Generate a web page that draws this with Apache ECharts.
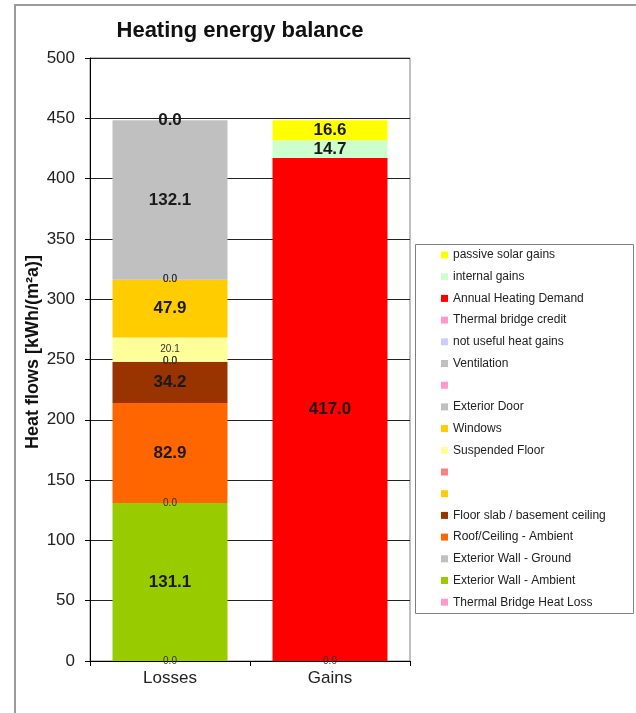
<!DOCTYPE html>
<html>
<head>
<meta charset="utf-8">
<script src="https://cdn.jsdelivr.net/npm/echarts@6/dist/echarts.min.js"></script>
<style>
  html, body { margin: 0; padding: 0; background: #fff; }
  #chart { width: 636px; height: 713px; }
</style>
</head>
<body>
<div id="chart"></div>
<script>
// Heating energy balance: losses vs. gains, kWh/(m²a)
const categories = ['Losses', 'Gains'];

// Series listed bottom-to-top of the stacks
const seriesNames = [
  'Thermal Bridge Heat Loss',
  'Exterior Wall - Ambient',
  'Exterior Wall - Ground',
  'Roof/Ceiling - Ambient',
  'Floor slab / basement ceiling',
  ' ',
  '  ',
  'Suspended Floor',
  'Windows',
  'Exterior Door',
  '   ',
  'Ventilation',
  'not useful heat gains',
  'Thermal bridge credit',
  'Annual Heating Demand',
  'internal gains',
  'passive solar gains'
];

// [Losses, Gains] per series
const lossValues = [0.0, 131.1, 0.0, 82.9, 34.2, 0.0, 0.0, 20.1, 47.9, 0.0, 0.0, 132.1, 0.0, null, null, null, null];
const gainValues = [null, null, null, null, null, null, null, null, null, null, null, null, null, 0.0, 417.0, 14.7, 16.6];

const seriesColors = [
  '#FF99CC', '#99CC00', '#C0C0C0', '#FF6600', '#993300', '#FFCC00', '#FF8080',
  '#FFFF99', '#FFCC00', '#C0C0C0', '#FF99CC', '#C0C0C0', '#CCCCFF',
  '#FF99CC', '#FF0000', '#CCFFCC', '#FFFF00'
];

// Which series carry the large bold value label
const boldLabel = [false, true, false, true, true, false, false, false, true, false, false, true, true, false, true, true, true];

const yTicks = { min: 0, max: 500, interval: 50 };

const FONT = '"Liberation Sans", Arial, sans-serif';

const series = seriesNames.map((name, i) => ({
  name: name,
  type: 'bar',
  stack: 'balance',
  barWidth: 115,
  data: [lossValues[i], gainValues[i]],
  itemStyle: { color: seriesColors[i] },
  label: {
    show: true,
    position: 'inside',
    fontFamily: FONT,
    fontSize: boldLabel[i] ? 17 : 10,
    fontWeight: boldLabel[i] ? 'bold' : 'normal',
    color: boldLabel[i] ? '#1a1a1a' : '#333',
    formatter: p => (p.value == null ? '' : Number(p.value).toFixed(1))
  },
  emphasis: { disabled: true }
}));

const chart = echarts.init(document.getElementById('chart'), null, { renderer: 'canvas' });

chart.setOption({
  animation: false,
  backgroundColor: '#fff',
  textStyle: { fontFamily: FONT },
  grid: { left: 90, right: 226, top: 58, bottom: 52, show: true, borderColor: '#808080', borderWidth: 1 },
  xAxis: {
    type: 'category',
    data: categories,
    axisLine: { lineStyle: { color: '#000', width: 1 } },
    axisTick: { show: true, alignWithLabel: false, length: 5, lineStyle: { color: '#000' } },
    axisLabel: { fontFamily: FONT, fontSize: 17, color: '#222', margin: 9 }
  },
  yAxis: {
    type: 'value',
    min: yTicks.min,
    max: yTicks.max,
    interval: yTicks.interval,
    axisLine: { show: true, lineStyle: { color: '#000', width: 1 } },
    axisTick: { show: true, length: 5, lineStyle: { color: '#000' } },
    axisLabel: { fontFamily: FONT, fontSize: 17, color: '#222', margin: 15 },
    splitLine: { show: true, lineStyle: { color: '#222', width: 1 } }
  },
  legend: {
    orient: 'vertical',
    left: 441,
    top: 248,
    icon: 'rect',
    itemWidth: 7,
    itemHeight: 7,
    itemGap: 7.7,
    padding: 0,
    data: seriesNames.slice().reverse(),
    textStyle: { fontFamily: FONT, fontSize: 12, color: '#222', lineHeight: 14 },
    selectedMode: false
  },
  graphic: [
    {
      type: 'rect',
      silent: true,
      z: -10,
      shape: { x: 15, y: 5, width: 640, height: 720 },
      style: { fill: 'none', stroke: '#9a9a9a', lineWidth: 2 }
    },
    {
      type: 'rect',
      silent: true,
      shape: { x: 415.5, y: 244.5, width: 218, height: 369 },
      style: { fill: 'none', stroke: '#808080', lineWidth: 1 }
    },
    {
      type: 'text',
      silent: true,
      x: 240,
      y: 20,
      style: {
        text: 'Heating energy balance',
        font: 'bold 22px "Liberation Sans", Arial, sans-serif',
        fill: '#111',
        textAlign: 'center',
        textVerticalAlign: 'top'
      }
    },
    {
      type: 'text',
      silent: true,
      x: 33,
      y: 352,
      rotation: Math.PI / 2,
      style: {
        text: 'Heat flows [kWh/(m²a)]',
        font: 'bold 18px "Liberation Sans", Arial, sans-serif',
        fill: '#111',
        textAlign: 'center',
        textVerticalAlign: 'middle'
      }
    }
  ],
  series: series
});
</script>
</body>
</html>
